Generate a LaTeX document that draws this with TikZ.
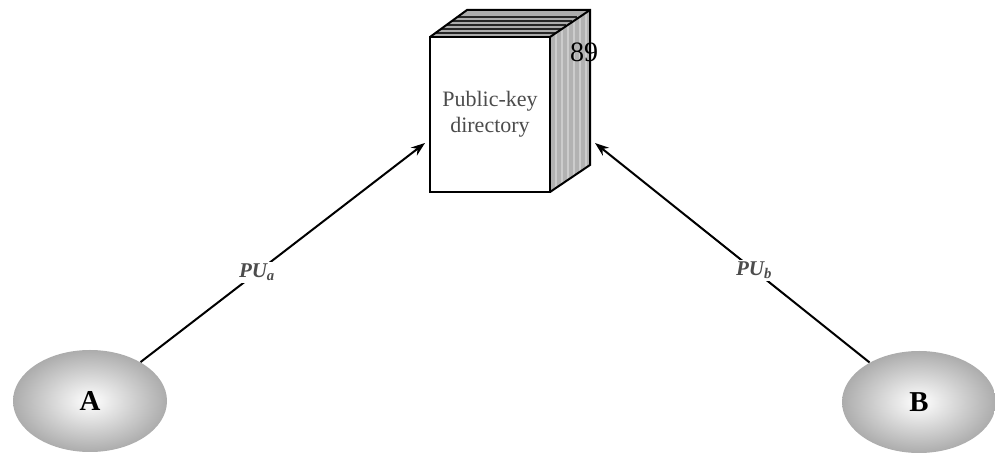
\documentclass[tikz,border=0pt]{standalone}
\usepackage{fontspec}
\setmainfont{Liberation Serif}
\usepackage{tikz}
\usetikzlibrary{arrows.meta,shapes.geometric,positioning}

\begin{document}
\begin{tikzpicture}[x=0.5pt,y=0.5pt,
    party/.style={ellipse, minimum width=77pt, minimum height=51pt,
        inner color=white, outer color=gray!65, font=\Large\bfseries},
    keylabel/.style={fill=white, inner sep=1pt, text=gray!60!black,
        font=\itshape\bfseries\fontsize{10.5}{12}\selectfont},
    link/.style={line width=1pt, -{Stealth[length=7pt,width=5pt]}}]
    \useasboundingbox (0,0) rectangle (995,454);

    % the directory
    \fill[gray!65] (430,417) -- (467,444) -- (590,444) -- (550,417) -- cycle;
    \fill[gray!60] (550,417) -- (590,444) -- (590,289) -- (550,262) -- cycle;
    \foreach \x in {556,562,...,586}
        \draw[gray!40,line width=0.6pt] (\x,{262+(\x-550)*27/40}) -- (\x,{417+(\x-550)*27/40});
    \foreach \d in {4,8,12,16,20}
        \draw[gray!30!black,line width=0.6pt] (430+\d*1.37,417+\d) -- (550+\d*1.37,417+\d);
    \draw[line width=1pt] (430,417) -- (467,444) -- (590,444) -- (590,289) -- (550,262);
    \draw[line width=1pt] (550,417) -- (590,444);
    \node[draw, line width=1pt, fill=white, minimum width=60pt, minimum height=77.5pt,
        align=center, text=gray!60!black, font=\fontsize{11}{13}\selectfont]
        (dir) at (490,339.5) {Public-key\\directory};
    \node[font=\fontsize{14}{16}\selectfont] (page) at (584,402) {89};

    % the two parties
    \node[party] (A) at (90,53) {A};
    \node[party] (B) at (919,52) {B};

    \coordinate (ina) at (425,311);
    \coordinate (inb) at (595,311);

    \draw[link] (A) -- node[keylabel, pos=0.41] {PU\textsubscript{a}} (ina);
    \draw[link] (B) -- node[keylabel, pos=0.42] {PU\textsubscript{b}} (inb);

\end{tikzpicture}
\end{document}
